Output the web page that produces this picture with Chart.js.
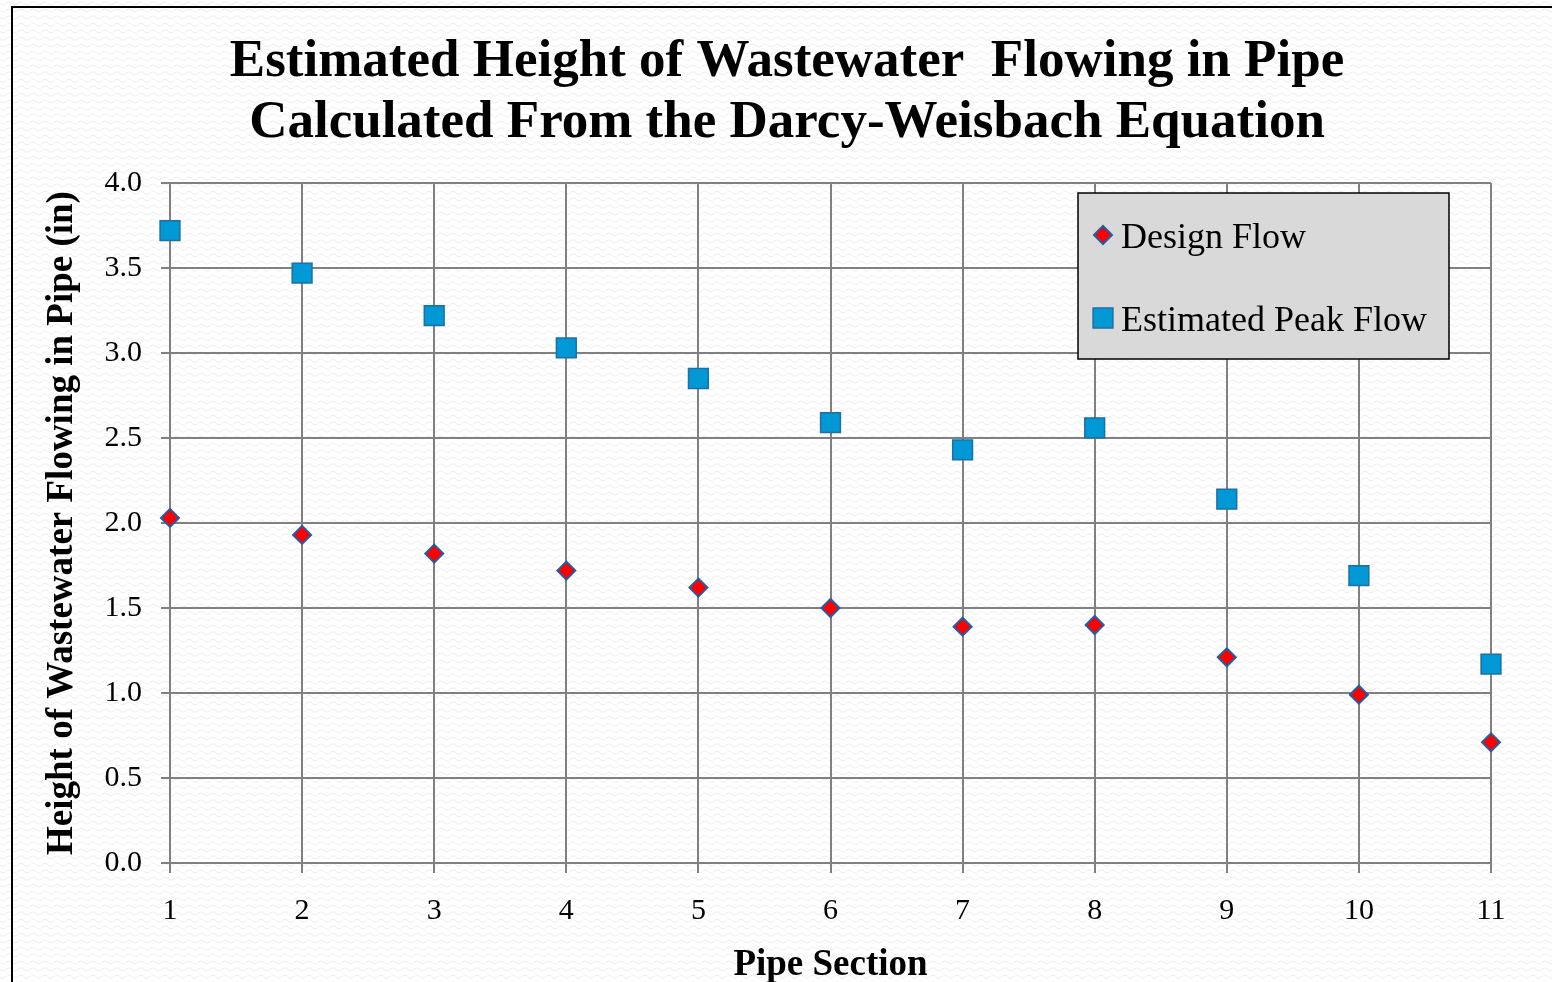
<!DOCTYPE html>
<html>
<head>
<meta charset="utf-8">
<title>Estimated Height of Wastewater Flowing in Pipe</title>
<script src="https://cdn.jsdelivr.net/npm/chart.js@4/dist/chart.umd.min.js"></script>
<style>
    html, body { margin: 0; padding: 0; background: #fff; }
    #wrap { width: 1552px; height: 982px; }
</style>
</head>
<body>
<div id="wrap"><canvas id="pipe-chart" width="1552" height="982"></canvas></div>
<script>
// Values
const sections = [1, 2, 3, 4, 5, 6, 7, 8, 9, 10, 11];
const designFlow = [2.03, 1.93, 1.82, 1.72, 1.62, 1.50, 1.39, 1.40, 1.21, 0.99, 0.71];
const peakFlow = [3.72, 3.47, 3.22, 3.03, 2.85, 2.59, 2.43, 2.56, 2.14, 1.69, 1.17];
const seriesNames = ["Design Flow", "Estimated Peak Flow"];
const titleLines = [
    "Estimated Height of Wastewater  Flowing in Pipe",
    "Calculated From the Darcy-Weisbach Equation",
];

const SERIF = '"Liberation Serif", "Times New Roman", serif';
const GRID = "#808080";

// faint wavy paper background
function makePattern() {
    const c = document.createElement("canvas");
    c.width = 12;
    c.height = 7;
    const g = c.getContext("2d");
    g.fillStyle = "#ffffff";
    g.fillRect(0, 0, 12, 7);
    g.strokeStyle = "#efefef";
    g.lineWidth = 1;
    g.beginPath();
    for (let x = 0; x <= 12; x++) {
        const y = 3.5 + 1.5 * Math.sin((x / 12) * Math.PI * 2);
        if (x === 0) g.moveTo(x, y);
        else g.lineTo(x, y);
    }
    g.stroke();
    return c;
}

const backdrop = {
    id: "backdrop",
    beforeDraw(chart) {
        const { ctx, width, height } = chart;
        ctx.save();
        ctx.fillStyle = ctx.createPattern(makePattern(), "repeat");
        ctx.fillRect(0, 0, width, height);
        ctx.strokeStyle = "#000";
        ctx.lineWidth = 2;
        ctx.strokeRect(12, 7, width + 20, height + 20);
        ctx.restore();
    },
};

const titleAndLegend = {
    id: "titleAndLegend",
    afterDraw(chart) {
        const { ctx } = chart;
        ctx.save();

        // title
        ctx.fillStyle = "#000";
        ctx.font = "bold 53px " + SERIF;
        ctx.textAlign = "center";
        ctx.textBaseline = "middle";
        ctx.fillText(titleLines[0], 787, 62);
        ctx.fillText(titleLines[1], 787, 123);

        // legend box
        ctx.fillStyle = "#d9d9d9";
        ctx.fillRect(1078, 193, 371, 166);
        ctx.strokeStyle = "#000";
        ctx.lineWidth = 1.5;
        ctx.strokeRect(1078, 193, 371, 166);

        const rows = [235, 318];
        chart.data.datasets.forEach((ds, i) => {
            ctx.fillStyle = ds.backgroundColor;
            ctx.strokeStyle = ds.borderColor;
            ctx.lineWidth = ds.borderWidth;
            Chart.helpers.drawPoint(ctx, {
                pointStyle: ds.pointStyle,
                radius: ds.pointRadius,
                rotation: 0,
                borderWidth: ds.borderWidth,
            }, 1103, rows[i]);
            ctx.fillStyle = "#000";
            ctx.font = "36px " + SERIF;
            ctx.textAlign = "left";
            ctx.textBaseline = "middle";
            ctx.fillText(ds.label, 1121, rows[i] + 4);
        });
        ctx.restore();
    },
};

function pipeChart() {
    const ctx = document.getElementById("pipe-chart").getContext("2d");

    const config = {
        type: "scatter",
        data: {
            datasets: [
                {
                    label: seriesNames[0],
                    data: sections.map((s, i) => ({ x: s, y: designFlow[i] })),
                    pointStyle: "rectRot",
                    pointRadius: 9,
                    pointHoverRadius: 9,
                    backgroundColor: "#ff0000",
                    borderColor: "#1f5fa5",
                    borderWidth: 2,
                    clip: false,
                },
                {
                    label: seriesNames[1],
                    data: sections.map((s, i) => ({ x: s, y: peakFlow[i] })),
                    pointStyle: "rect",
                    pointRadius: 14,
                    pointHoverRadius: 14,
                    backgroundColor: "#0099d6",
                    borderColor: "#1e6fa3",
                    borderWidth: 1.5,
                    clip: false,
                },
            ],
        },
        options: {
            responsive: false,
            animation: false,
            layout: { padding: { top: 183, right: 61, bottom: 0, left: 0 } },
            plugins: {
                legend: { display: false },
                title: { display: false },
                tooltip: { enabled: false },
            },
            scales: {
                x: {
                    type: "linear",
                    min: 1,
                    max: 11,
                    afterFit: (scale) => { scale.height = 119; },
                    ticks: {
                        stepSize: 1,
                        color: "#000",
                        padding: 20,
                        font: { family: SERIF, size: 30 },
                    },
                    grid: { color: GRID, lineWidth: 2, tickLength: 10 },
                    border: { color: GRID, width: 2 },
                    title: {
                        display: true,
                        text: "Pipe Section",
                        color: "#000",
                        font: { family: SERIF, size: 37, weight: "bold", lineHeight: 1 },
                        padding: { top: 0, bottom: -2 },
                    },
                },
                y: {
                    min: 0,
                    max: 4,
                    afterFit: (scale) => { scale.width = 170; },
                    ticks: {
                        stepSize: 0.5,
                        color: "#000",
                        padding: 19,
                        font: { family: SERIF, size: 30 },
                        callback: (v) => v.toFixed(1),
                    },
                    grid: { color: GRID, lineWidth: 2, tickLength: 9 },
                    border: { color: GRID, width: 2 },
                    title: {
                        display: true,
                        text: "Height of Wastewater Flowing in Pipe (in)",
                        color: "#000",
                        font: { family: SERIF, size: 37, weight: "bold", lineHeight: 1 },
                        padding: { top: 44, bottom: 0 },
                    },
                },
            },
        },
        plugins: [backdrop, titleAndLegend],
    };

    new Chart(ctx, config);
}

document.addEventListener("DOMContentLoaded", pipeChart);
</script>
</body>
</html>
